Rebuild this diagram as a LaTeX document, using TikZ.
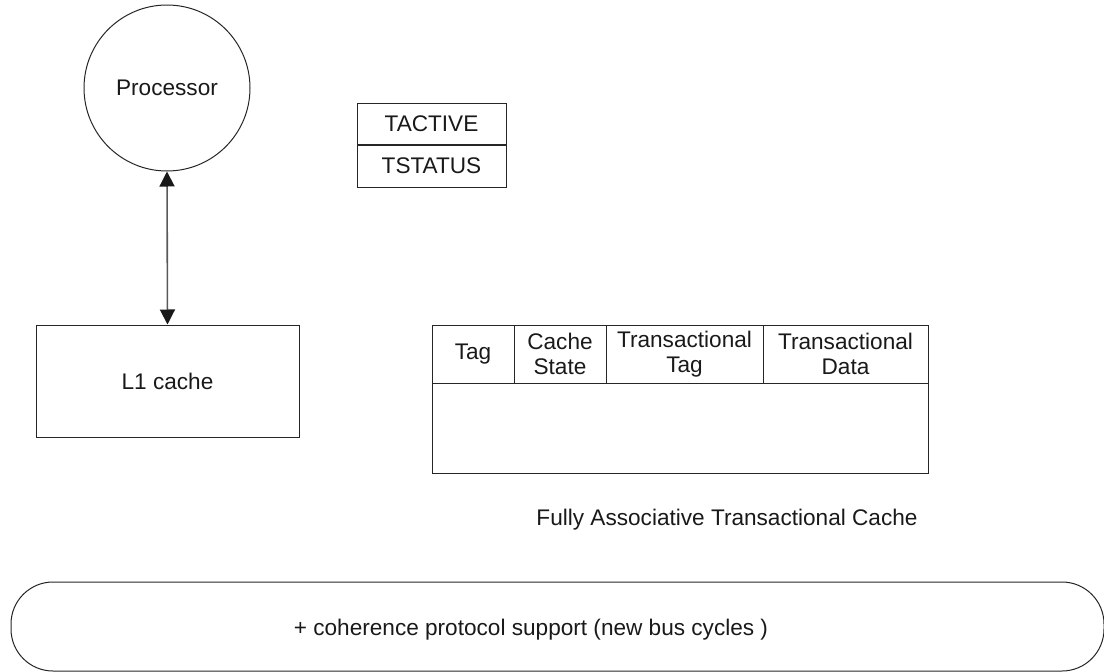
\documentclass[tikz,border=0pt]{standalone}
\usepackage{fontspec}
\setmainfont{Liberation Sans}
\usetikzlibrary{arrows.meta}
\begin{document}
\begin{tikzpicture}[x=1pt,y=-1pt,
  box/.style={draw=black!85,line width=1pt,inner sep=0pt},
  lbl/.style={font=\fontsize{22.6}{25}\selectfont,align=center,text=black!90},
  small/.style={font=\fontsize{22.6}{25}\selectfont,text=black!90}]
\useasboundingbox (0,0) rectangle (1104,672);
% processor
\node[box,circle,minimum size=166pt,lbl] (proc) at (167,88) {Processor};
% L1 cache
\node[box,minimum width=263pt,minimum height=112pt,lbl] (l1) at (167.5,381) {L1 cache};
\draw[line width=1.6pt,black!65,{Triangle[width=15pt,length=15pt,black!90]}-{Triangle[width=15pt,length=15pt,black!90]}] (proc.south) -- (l1.north);
% TACTIVE/TSTATUS
\node[box,minimum width=149pt,minimum height=41pt,lbl] (tact) at (431.5,123.5) {TACTIVE};
\node[box,minimum width=149pt,minimum height=42pt,lbl,anchor=north] (tstat) at (tact.south) {TSTATUS};
% table
\node[box,minimum width=496pt,minimum height=148pt] (tbl) at (680,399) {};
\coordinate (h1) at (432,383);
\coordinate (h2) at (928,383);
\draw[black!85,line width=1pt] (h1) -- (h2);
\coordinate (d1t) at (514,325); \coordinate (d1b) at (514,383);
\coordinate (d2t) at (606,325); \coordinate (d2b) at (606,383);
\coordinate (d3t) at (763,325); \coordinate (d3b) at (763,383);
\draw[black!85,line width=1pt] (d1t) -- (d1b) (d2t) -- (d2b) (d3t) -- (d3b);
\node[lbl] (c1) at (473,354) {Tag};
\node[lbl] (c2) at (560,354) {Cache\\State};
\node[lbl] (c3) at (684.5,354) {Transactional\\Tag};
\node[lbl] (c4) at (845.5,354) {Transactional\\Data};
\node[small] (cap) at (727,520) {Fully Associative Transactional Cache};
% bus
\draw[black!85,line width=1pt,rounded corners=42pt] (11,582) rectangle (1104,671);
\node[small] (bus) at (531,630) {+ coherence protocol support (new bus cycles )};
\end{tikzpicture}
\end{document}
